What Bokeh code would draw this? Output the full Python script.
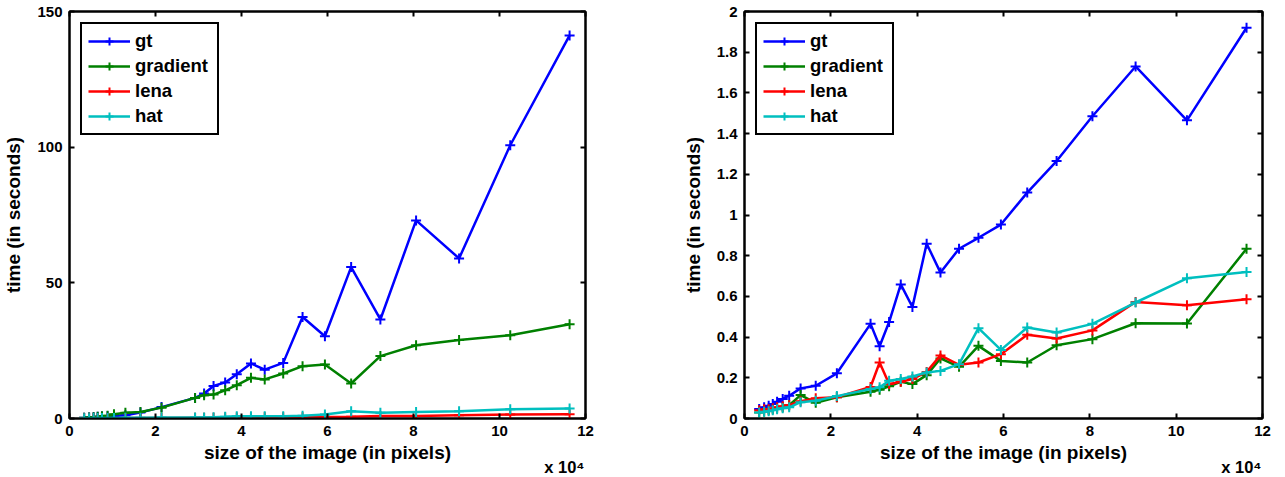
from bokeh.plotting import figure
from bokeh.layouts import row
from bokeh.models import Range1d, LinearAxis, FixedTicker, Title
from bokeh.embed import file_html
from bokeh.resources import INLINE

# image sizes, in units of 1e4 pixels
size_1e4 = [0.34, 0.455, 0.56, 0.655, 0.755, 0.885, 1.035, 1.30, 1.65, 2.14,
            2.92, 3.13, 3.35, 3.62, 3.89, 4.22, 4.54, 4.97, 5.42, 5.94,
            6.55, 7.23, 8.06, 9.06, 10.25, 11.63]

series_names = ["gt", "gradient", "lena", "hat"]
series_colors = ["#0000FF", "#008000", "#FF0000", "#00BFBF"]

# left panel (time in seconds)
gt_left = [0.3, 0.4, 0.5, 0.6, 0.7, 0.8, 0.9, 1.2, 2.2, 4.2,
           7.6, 9.2, 12.0, 13.3, 16.3, 20.3, 18.0, 20.5, 37.4, 30.3,
           55.8, 36.5, 73.0, 59.0, 100.7, 141.2]
gradient_left = [0.3, 0.4, 0.5, 0.6, 0.8, 1.0, 1.6, 2.1, 2.4, 4.0,
                 7.6, 8.6, 8.8, 10.4, 12.3, 15.0, 14.4, 16.6, 19.3, 19.9,
                 12.9, 23.0, 27.0, 28.9, 30.7, 34.7]
lena_left = [0.05, 0.06, 0.07, 0.08, 0.09, 0.10, 0.12, 0.15, 0.18, 0.22,
             0.28, 0.30, 0.32, 0.35, 0.38, 0.40, 0.42, 0.45, 0.50, 0.55,
             0.60, 0.96, 0.96, 1.2, 1.5, 1.6]
hat_left = [0.10, 0.12, 0.14, 0.16, 0.18, 0.20, 0.23, 0.27, 0.30, 0.34,
            0.37, 0.40, 0.48, 0.60, 0.85, 0.85, 0.85, 0.85, 0.97, 1.47,
            2.7, 2.1, 2.4, 2.7, 3.4, 3.7]

# right panel (time in seconds)
gt_right = [0.047, 0.055, 0.063, 0.071, 0.082, 0.096, 0.112, 0.148, 0.161, 0.222,
            0.465, 0.355, 0.474, 0.659, 0.548, 0.859, 0.717, 0.834, 0.888, 0.953,
            1.11, 1.265, 1.485, 1.73, 1.465, 1.92]
gradient_right = [0.030, 0.035, 0.040, 0.045, 0.050, 0.055, 0.065, 0.115, 0.077, 0.104,
                  0.131, 0.141, 0.158, 0.180, 0.169, 0.213, 0.295, 0.254, 0.357, 0.283,
                  0.275, 0.360, 0.390, 0.468, 0.467, 0.834]
lena_right = [0.040, 0.045, 0.045, 0.050, 0.055, 0.060, 0.065, 0.085, 0.099, 0.105,
              0.155, 0.275, 0.170, 0.180, 0.194, 0.229, 0.310, 0.264, 0.275, 0.316,
              0.411, 0.393, 0.433, 0.573, 0.556, 0.586]
hat_right = [0.030, 0.033, 0.036, 0.040, 0.045, 0.050, 0.055, 0.080, 0.087, 0.110,
             0.145, 0.153, 0.185, 0.194, 0.207, 0.226, 0.234, 0.267, 0.444, 0.337,
             0.447, 0.423, 0.465, 0.570, 0.689, 0.720]

x_ticks = [0, 2, 4, 6, 8, 10, 12]
x_tick_labels = ["0", "2", "4", "6", "8", "10", "12"]
y_ticks_left = [0, 50, 100, 150]
y_tick_labels_left = ["0", "50", "100", "150"]
y_ticks_right = [0, 0.2, 0.4, 0.6, 0.8, 1.0, 1.2, 1.4, 1.6, 1.8, 2.0]
y_tick_labels_right = ["0", "0.2", "0.4", "0.6", "0.8", "1", "1.2", "1.4", "1.6", "1.8", "2"]

FONT = "Liberation Sans"


def style_axis(ax, ticks, labels, show_labels):
    ax.ticker = FixedTicker(ticks=ticks)
    ax.axis_line_color = "black"
    ax.axis_line_width = 2
    ax.major_tick_in = 5
    ax.major_tick_out = 0
    ax.major_tick_line_color = "black"
    ax.major_tick_line_width = 2
    ax.minor_tick_line_color = None
    ax.major_label_text_font = FONT
    ax.major_label_text_font_style = "bold"
    ax.major_label_overrides = {t: l for t, l in zip(ticks, labels)}
    if show_labels:
        ax.major_label_text_color = "black"
        ax.major_label_text_font_size = "15px"
        ax.major_label_standoff = 7
    else:
        ax.major_label_text_color = None
        ax.major_label_text_font_size = "2px"
        ax.major_label_standoff = 0
    ax.axis_label_text_font = FONT
    ax.axis_label_text_font_style = "bold"
    ax.axis_label_text_font_size = "19px"
    ax.axis_label_text_color = "black"


def make_panel(ymax, yticks, ylabels, data, mbl, mbr, fw):
    p = figure(width=mbl + fw + mbr, height=475,
               x_range=Range1d(0, 12), y_range=Range1d(0, ymax),
               output_backend="svg", toolbar_location=None,
               x_axis_location=None, y_axis_location=None,
               min_border_left=mbl, min_border_right=mbr,
               min_border_top=11, min_border_bottom=57)
    p.grid.visible = False
    p.outline_line_color = "black"
    p.outline_line_width = 2
    p.background_fill_color = "white"
    p.border_fill_color = "white"

    xb = LinearAxis(axis_label="size of the image (in pixels)")
    style_axis(xb, x_ticks, x_tick_labels, True)
    xb.axis_label_standoff = 3
    p.add_layout(xb, "below")
    yl = LinearAxis(axis_label="time (in seconds)")
    style_axis(yl, yticks, ylabels, True)
    yl.axis_label_standoff = 10
    p.add_layout(yl, "left")
    xt = LinearAxis()
    style_axis(xt, x_ticks, x_tick_labels, False)
    p.add_layout(xt, "above")
    yr = LinearAxis()
    style_axis(yr, yticks, ylabels, False)
    p.add_layout(yr, "right")

    for name, color, vals in zip(series_names, series_colors, data):
        p.line(size_1e4, vals, line_color=color, line_width=2.5, legend_label=name)
        p.scatter(size_1e4, vals, marker="cross", size=10, line_color=color,
                  line_width=2, legend_label=name)

    lg = p.legend[0]
    lg.location = "top_left"
    lg.margin = 11
    lg.border_line_color = "black"
    lg.border_line_alpha = 1
    lg.border_line_width = 2
    lg.background_fill_color = "white"
    lg.background_fill_alpha = 1
    lg.padding = 6
    lg.spacing = 3
    lg.glyph_width = 42
    lg.glyph_height = 20
    lg.label_height = 20
    lg.label_width = 76
    lg.label_standoff = 5
    lg.label_text_font = FONT
    lg.label_text_font_style = "bold"
    lg.label_text_font_size = "18.5px"
    lg.label_text_color = "black"

    scale_note = Title(text="x 10\u2074", align="right", offset=1, standoff=-16,
                       vertical_align="top", text_font=FONT,
                       text_font_style="bold", text_font_size="16.5px",
                       text_color="black")
    p.add_layout(scale_note, "below")
    return p


left = make_panel(150, y_ticks_left, y_tick_labels_left,
                  [gt_left, gradient_left, lena_left, hat_left], 68, 80, 517)
right = make_panel(2, y_ticks_right, y_tick_labels_right,
                   [gt_right, gradient_right, lena_right, hat_right], 79, 20, 518)

layout = row(left, right)
open("out.html", "w").write(file_html(layout, INLINE))
